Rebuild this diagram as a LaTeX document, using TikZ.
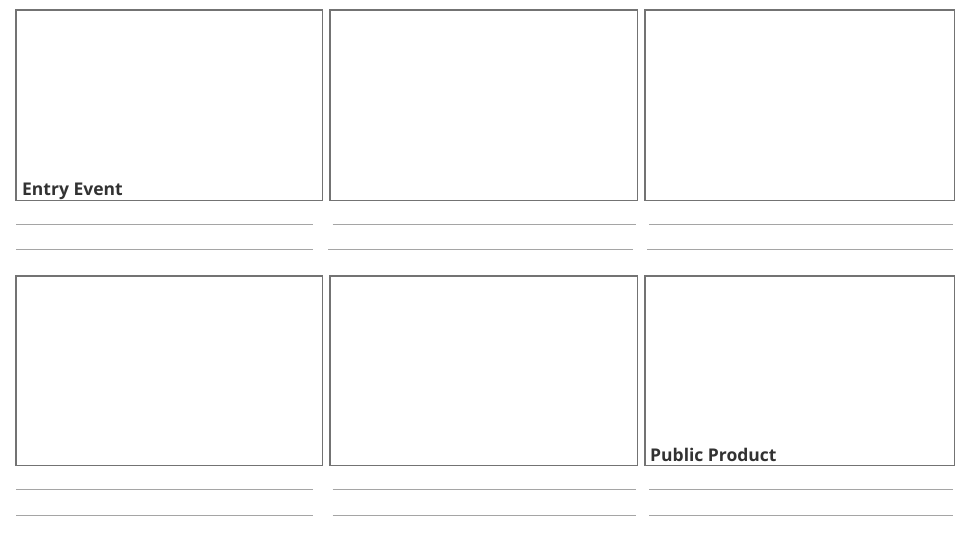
\documentclass[tikz,border=0pt]{standalone}
\usepackage{fontspec}
\setmainfont{Open Sans}
\definecolor{boxgray}{RGB}{115,115,115}
\definecolor{linegray}{RGB}{165,165,165}
\definecolor{txtgray}{RGB}{50,50,50}
\begin{document}
\begin{tikzpicture}[x=1pt,y=-1pt,
  panel/.style={draw=boxgray, line width=1.1pt, fill=white},
  writeline/.style={draw=linegray, line width=0.9pt},
  caption/.style={anchor=base west, inner sep=0pt, text=txtgray, font=\fontsize{17.5}{19}\selectfont\bfseries}]
\useasboundingbox (0,0) rectangle (975,535);
\fill[white] (0,0) rectangle (975,535);
% panels
\foreach \i/\xa/\xb in {1/16/322.7, 2/330/637.3, 3/645/954.3}{
  \draw[panel] (\xa,10) rectangle (\xb,200.5);
  \draw[panel] (\xa,276) rectangle (\xb,465.5);
}
% writing lines
\foreach \y in {224.7, 489.7, 515}{
  \draw[writeline] (16,\y) -- (312.7,\y);
  \draw[writeline] (332.7,\y) -- (635.7,\y);
  \draw[writeline] (649.3,\y) -- (952.7,\y);
}
\draw[writeline] (16,249.7) -- (312.7,249.7);
\draw[writeline] (328.3,249.7) -- (632.7,249.7);
\draw[writeline] (647.3,249.7) -- (952.7,249.7);
\node[caption] (entry) at (22,195.7) {Entry Event};
\node[caption] (public) at (650,461.7) {Public Product};
\end{tikzpicture}
\end{document}
